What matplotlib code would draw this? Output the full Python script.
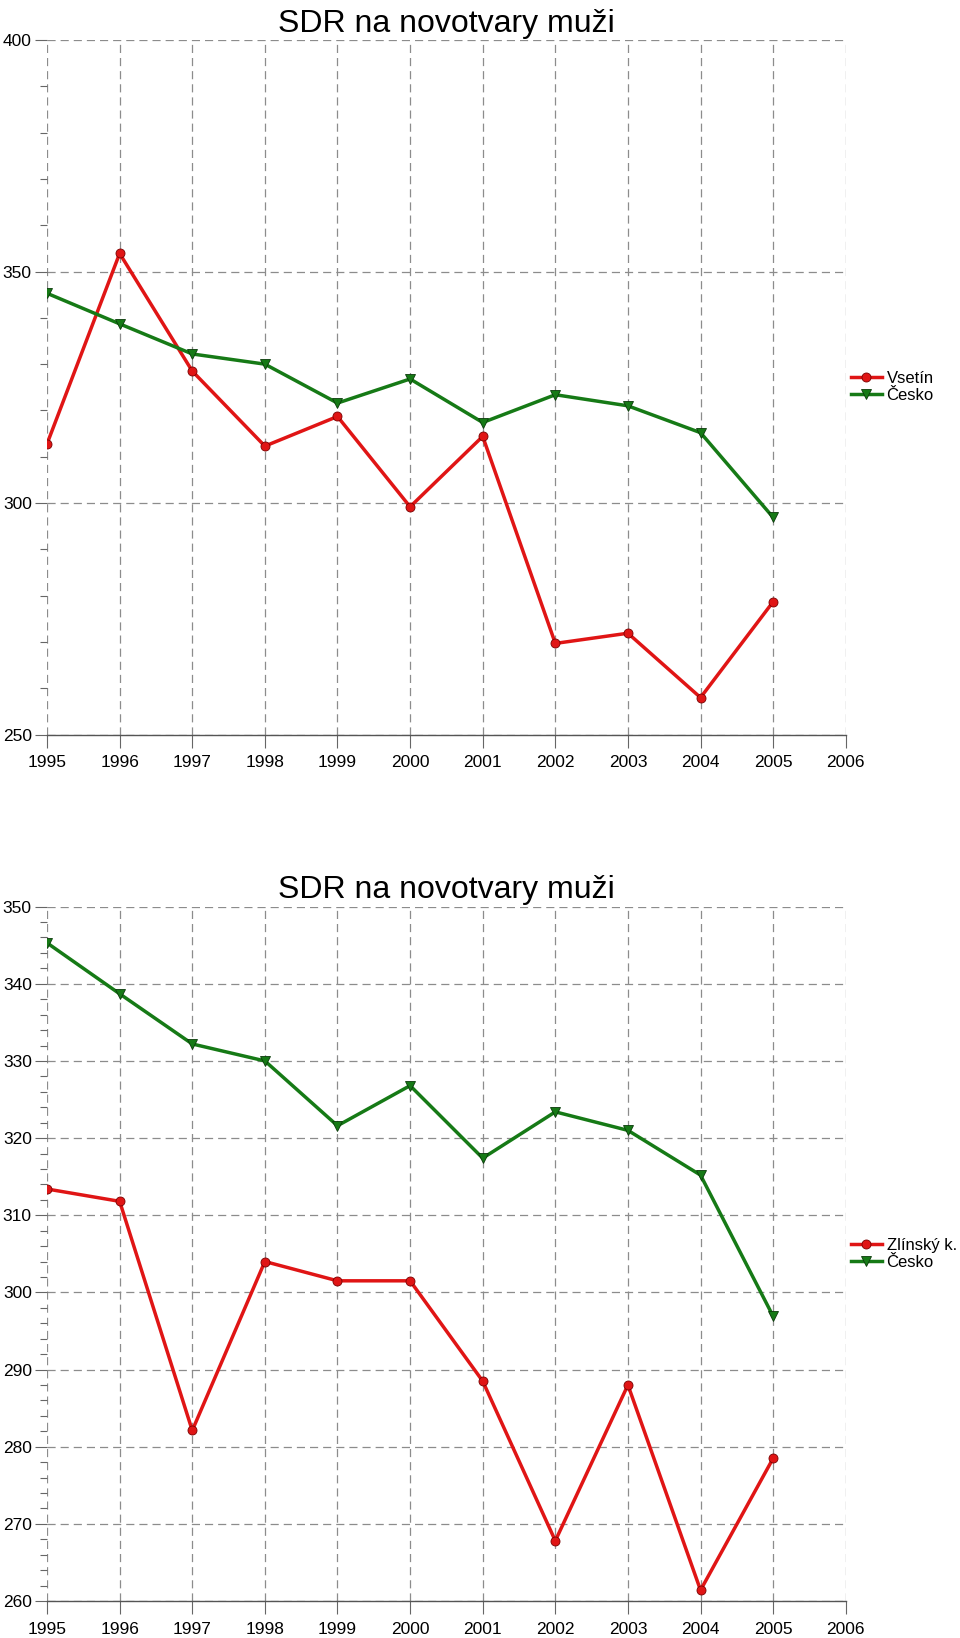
import matplotlib
matplotlib.use("Agg")
import matplotlib.pyplot as plt
from matplotlib.ticker import MultipleLocator

plt.rcParams['font.family'] = ['Liberation Sans', 'DejaVu Sans']

years = [1995, 1996, 1997, 1998, 1999, 2000, 2001, 2002, 2003, 2004, 2005]
vsetin = [312.8, 353.9, 328.5, 312.3, 318.7, 299.2, 314.4, 269.7, 271.9, 258.0, 278.7]
cesko = [345.3, 338.7, 332.2, 330.0, 321.6, 326.8, 317.4, 323.4, 321.0, 315.2, 296.9]
zlinsky = [313.4, 311.8, 282.1, 304.0, 301.5, 301.5, 288.5, 267.8, 288.0, 261.4, 278.5]
xticks = list(range(1995, 2007))
title = "SDR na novotvary muži"

RED = "#e01515"
GREEN = "#167a16"

fig = plt.figure(figsize=(9.6, 16.38), dpi=100)

def make_axes(rect, region_vals, region_name, ylim, major, minor):
    ax = fig.add_axes(rect)
    ax.plot(years, region_vals, color=RED, lw=2.5, marker='o', ms=6.5,
            mfc=RED, mec="#7a0000", mew=0.6, label=region_name, zorder=3)
    ax.plot(years, cesko, color=GREEN, lw=2.5, marker='v', ms=7.5,
            mfc=GREEN, mec="#0a3a0a", mew=0.6, label="Česko", zorder=3)
    ax.set_xlim(1995, 2006)
    ax.set_ylim(*ylim)
    ax.set_xticks(xticks)
    ax.set_xticklabels([str(x) for x in xticks])
    ax.yaxis.set_major_locator(MultipleLocator(major))
    ax.yaxis.set_minor_locator(MultipleLocator(minor))
    ax.grid(True, which='major', ls=(0, (6.5, 4)), color='#8c8c8c', lw=0.9)
    for s in ['top', 'right', 'left']:
        ax.spines[s].set_visible(False)
    ax.spines['bottom'].set_color('#555555')
    ax.spines['bottom'].set_linewidth(1.0)
    ax.tick_params(axis='both', which='major', length=9, width=0.8,
                   color='#666666', labelsize=12.5, labelcolor='black')
    ax.tick_params(axis='y', which='major', pad=2)
    ax.tick_params(axis='x', which='major', pad=6)
    ax.tick_params(axis='y', which='minor', length=5, width=0.8, color='#666666')
    ax.set_title(title, fontsize=23, pad=6)
    ax.legend(loc='center left', bbox_to_anchor=(1.0, 0.5), frameon=False,
              fontsize=12, handlelength=1.85, handletextpad=0.3,
              labelspacing=0.12, borderpad=0.0, borderaxespad=0.3)
    return ax

make_axes([0.049, 0.5515, 0.832, 0.4241], vsetin, "Vsetín", (250, 400), 50, 10)
make_axes([0.049, 0.0226, 0.832, 0.4239], zlinsky, "Zlínský k.", (260, 350), 10, 2)

fig.savefig("out.png", dpi=100)
